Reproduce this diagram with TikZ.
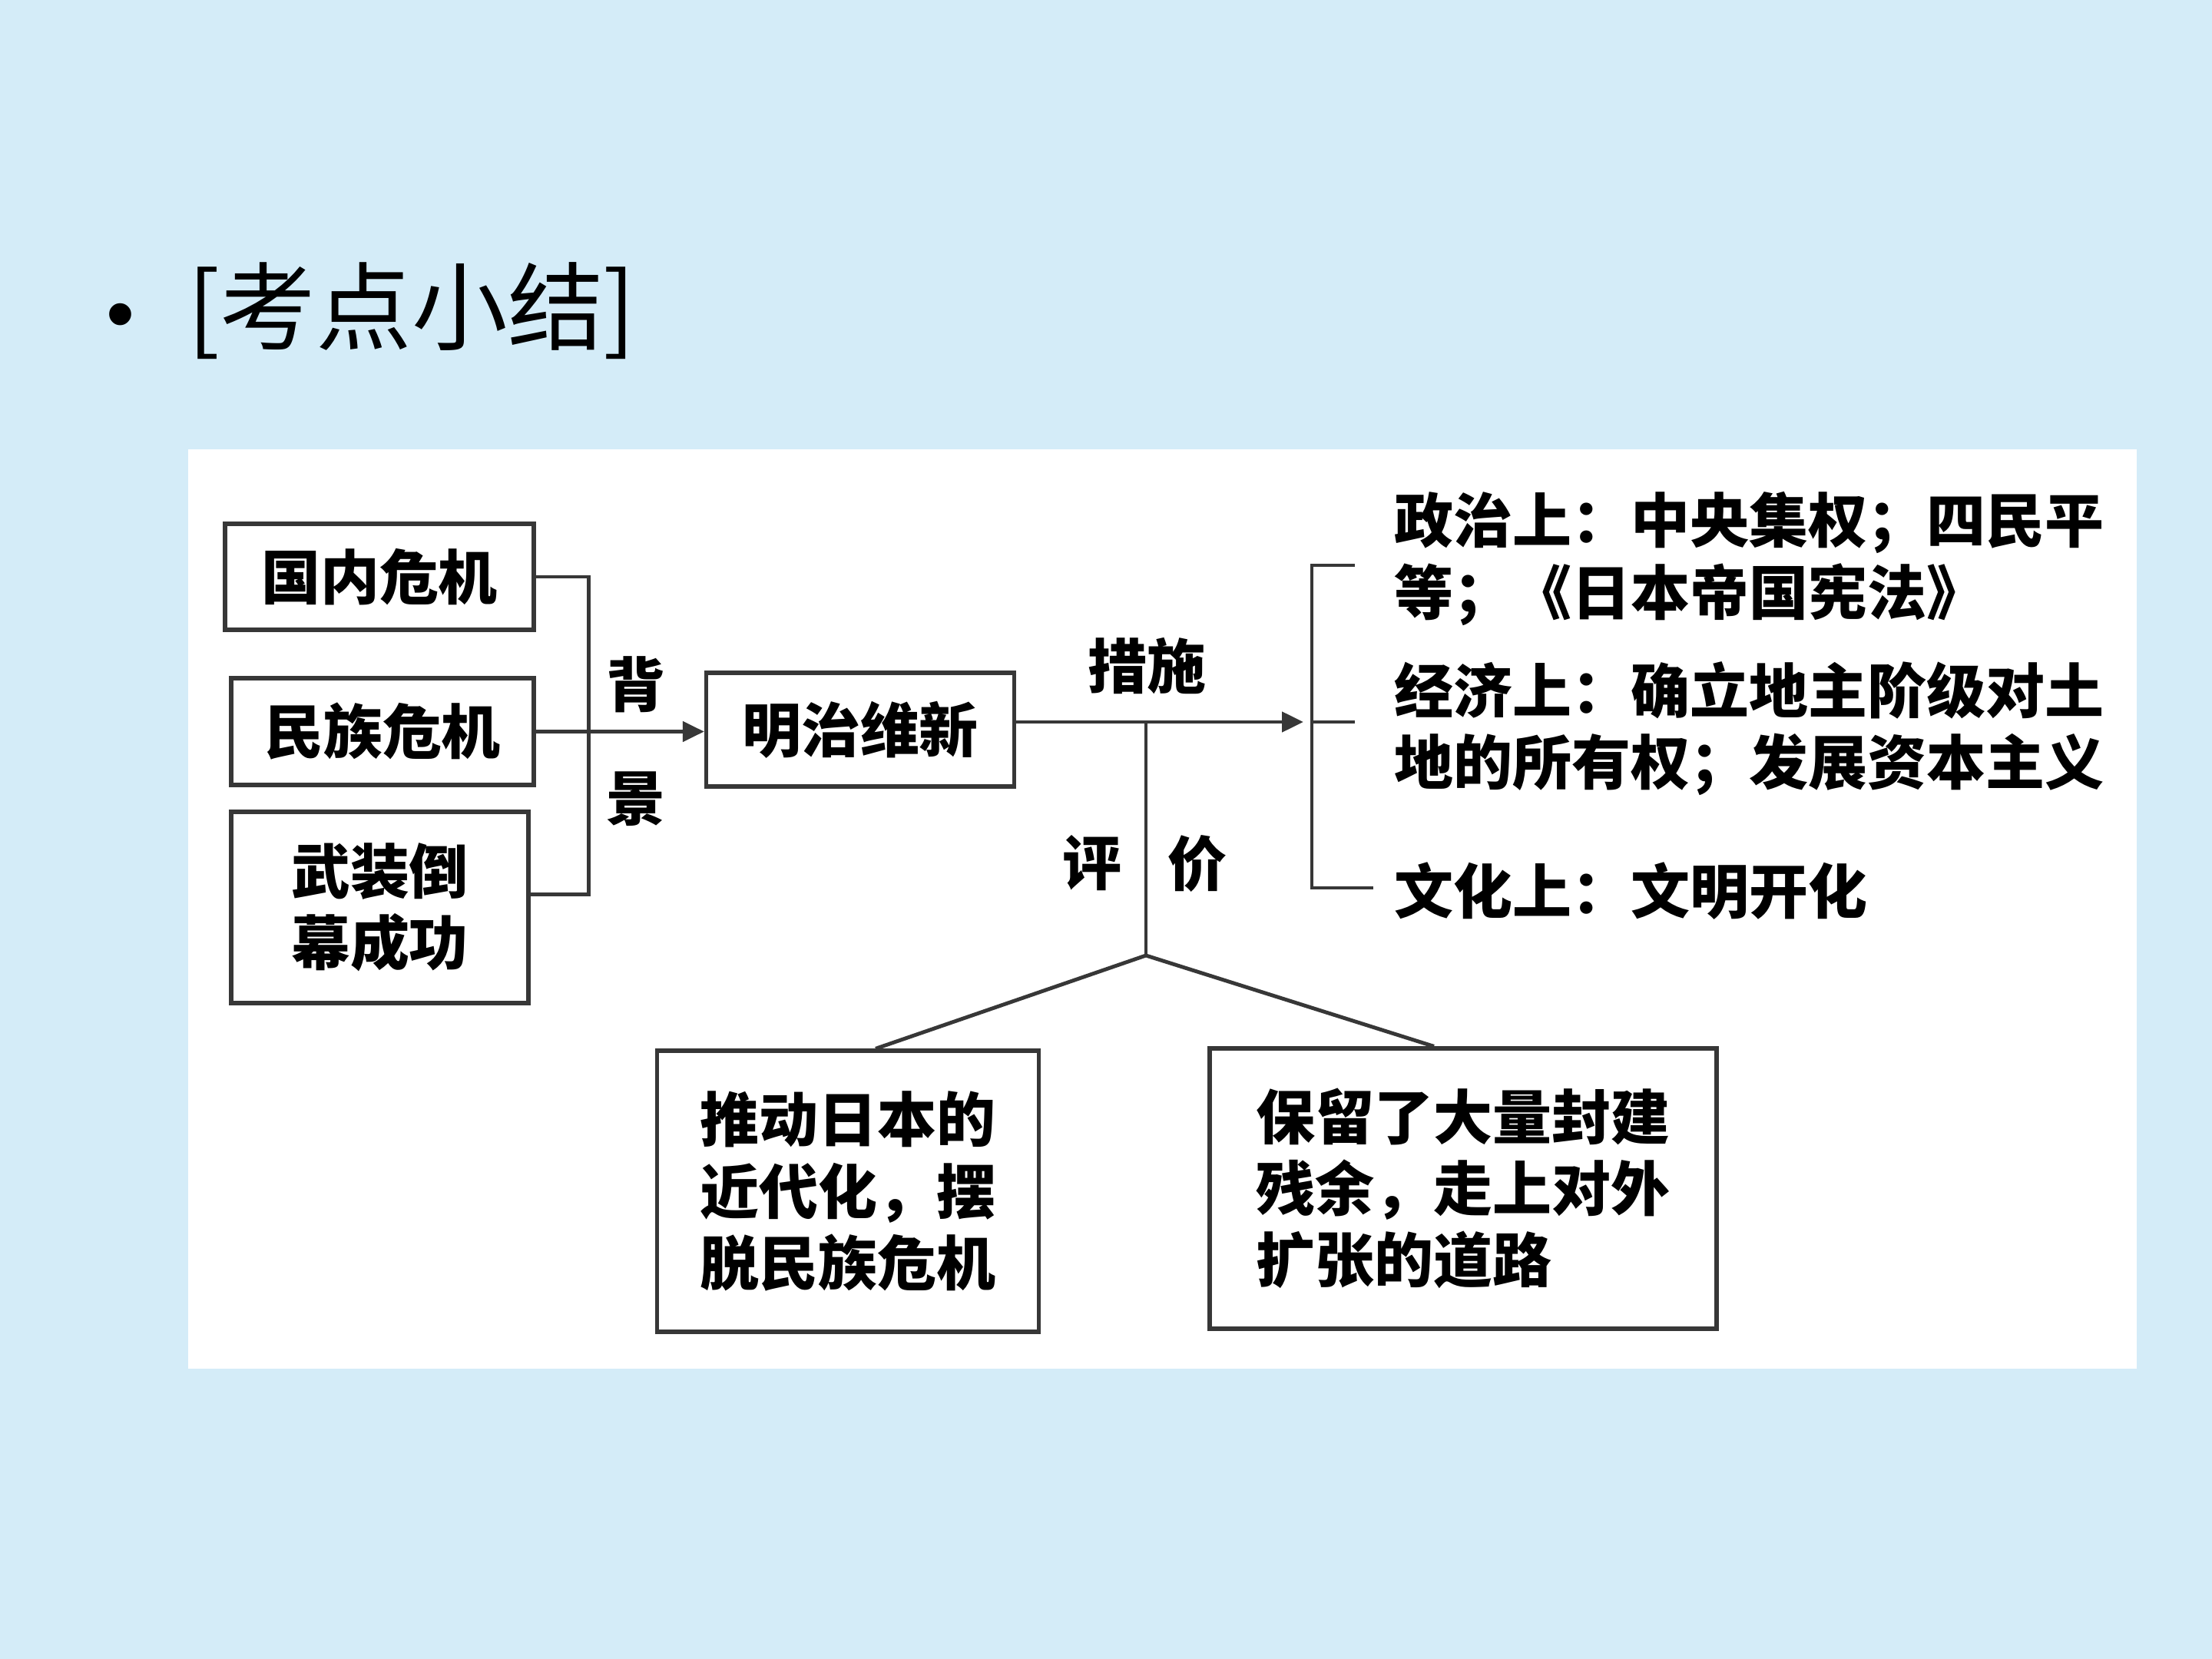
\documentclass[tikz,border=0pt]{standalone}
\usepackage{fontspec}
\usetikzlibrary{positioning,calc,arrows.meta}
\newfontfamily\cjk{Noto Sans CJK SC}
\newfontfamily\latinsans{Liberation Sans}
\definecolor{slidebg}{RGB}{212,236,248}
\definecolor{linegray}{RGB}{55,55,55}

\begin{document}
\begin{tikzpicture}

        % Styles for the boxes, labels and connectors
        \tikzset{
            kbox/.style={draw=linegray, line width=1.5pt, inner sep=0pt,
                font=\cjk\bfseries\fontsize{21.9}{26.5}\selectfont, align=center},
            klabel/.style={inner sep=0pt,
                font=\cjk\bfseries\fontsize{21.9}{26.5}\selectfont},
            kline/.style={draw=linegray, line width=1.4pt},
            karrow/.style={kline, -{Triangle[length=2.8mm,width=2.6mm]}}
        }

        \useasboundingbox (0,0) rectangle (28.8,-21.6);
        \fill[slidebg] (0,0) rectangle (28.8,-21.6);
        \fill[white] (2.45,-5.85) rectangle (27.82,-17.82);

        % Slide heading
        \node[inner sep=0pt, font=\latinsans\fontsize{30}{34}\selectfont]
            (dot) at (1.57,-4.20) {•};
        \node[anchor=west, inner sep=0pt, font=\cjk\fontsize{35.5}{40}\selectfont]
            (title) at (2.44,-4.05) {[考点小结]};

        % Boxes
        \begin{scope}
            \node[kbox, minimum width=4.02cm, minimum height=1.38cm]
                (B1) at (4.94,-7.51) {国内危机};
            \node[kbox, minimum width=3.94cm, minimum height=1.39cm]
                (B2) at (4.98,-9.525) {民族危机};
            \node[kbox, minimum width=3.87cm, minimum height=2.49cm]
                (B3) at (4.945,-11.815) {武装倒\\幕成功};
            \node[kbox, minimum width=4.01cm, minimum height=1.48cm]
                (MZ) at (11.20,-9.50) {明治维新};
            \node[kbox, align=left, minimum width=4.97cm, minimum height=3.66cm]
                (L1) at (11.04,-15.51) {推动日本的\\近代化，摆\\脱民族危机};
            \node[kbox, align=left, minimum width=6.60cm, minimum height=3.65cm]
                (R1) at (19.05,-15.475) {保留了大量封建\\残余，走上对外\\扩张的道路};
        \end{scope}

        % Labels
        \begin{scope}
            \node[klabel] (BJ1) at (8.28,-8.91) {背};
            \node[klabel] (BJ2) at (8.28,-10.40) {景};
            \node[klabel] (CS) at (14.93,-8.67) {措施};
            \node[klabel] (PJ1) at (14.22,-11.24) {评};
            \node[klabel] (PJ2) at (15.59,-11.24) {价};

            \node[klabel, anchor=west, align=left] (ZZ) at (18.15,-7.275)
            {政治上：中央集权；四民平\\等；《日本帝国宪法》};
            \node[klabel, anchor=west, align=left] (JJ) at (18.15,-9.49)
            {经济上：确立地主阶级对土\\地的所有权；发展资本主义};
            \node[klabel, anchor=west] (WH) at (18.15,-11.60)
            {文化上：文明开化};
        \end{scope}

        % Bends of the brackets and the tree
        \coordinate (BG) at (7.665,-9.50);
        \coordinate (MA) at (16.97,-9.40);
        \coordinate (RT) at (17.64,-7.36);
        \coordinate (RX) at (17.08,-9.40);
        \coordinate (RM) at (17.64,-9.40);
        \coordinate (RB) at (17.88,-11.56);
        \coordinate (PJ) at (14.92,-9.40);
        \coordinate (AP) at (14.92,-12.44);

        \begin{scope}
            \draw[kline] (B1.east) -| (BG) |- ([yshift=0.17cm]B3.east);
            \draw[karrow] (B2.east) -- (B2.east -| MZ.west);
            \draw[karrow] ([yshift=0.10cm]MZ.east) -- (MA);
            \draw[kline] (RT) -| (RX) |- (RB);
            \draw[kline] (RX) -- (RM);
            \draw[kline] (PJ) -- (AP);
            \draw[kline] ([xshift=0.36cm]L1.north) -- (AP)
                -- ([xshift=-0.38cm]R1.north);
        \end{scope}

\end{tikzpicture}
\end{document}
